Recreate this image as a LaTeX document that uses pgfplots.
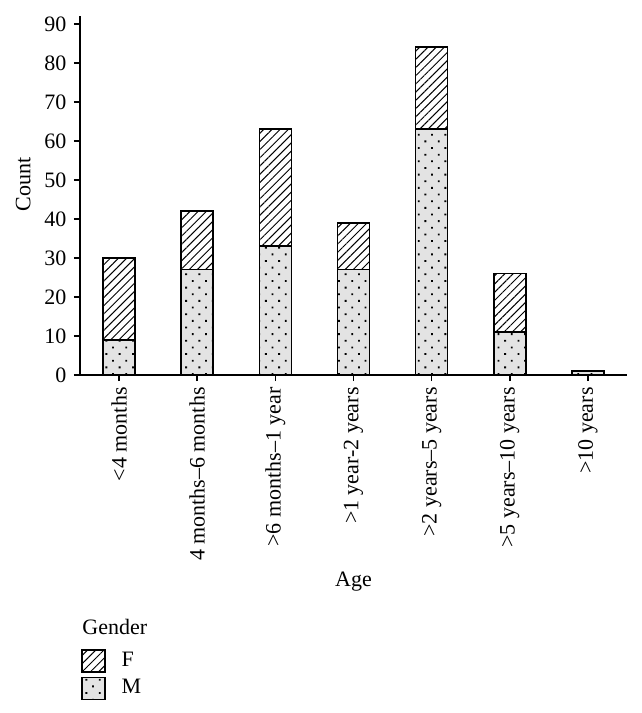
\documentclass[border=0pt]{standalone}
\usepackage{fontspec}
\setmainfont{Liberation Serif}
\usepackage{pgfplots}
\pgfplotsset{compat=1.18}
\usetikzlibrary{patterns.meta}
\begin{document}
\fontsize{11}{13.2}\selectfont
\begin{tikzpicture}
\useasboundingbox (-40pt,-169pt) rectangle (281pt,187.5pt);
\begin{axis}[
  scale only axis,
  width=273.5pt, height=179.5pt,
  ybar stacked, bar width=16pt,
  xmin=-0.5, xmax=6.5,
  ymin=0, ymax=92,
  axis lines=left,
  axis line style={line width=0.8pt, -},
  xtick={0,1,2,3,4,5,6},
  xticklabels={{<4 months},{4 months--6 months},{>6 months--1 year},{>1 year-2 years},{>2 years--5 years},{>5 years--10 years},{>10 years}},
  xticklabel style={rotate=90, anchor=east, inner sep=3pt},
  ytick={0,10,...,90},
  tick align=outside,
  major tick length=3pt,
  tick style={line width=0.8pt, black},
  /pgf/number format/assume math mode=true,
  xlabel={Age},
  xlabel style={at={(axis description cs:0.5,-0.588)}, anchor=base},
  ylabel={Count},
  ylabel style={at={(axis description cs:-0.104,0.53)}, anchor=center},
  legend style={at={(axis description cs:0.002,-0.763)}, anchor=north west, draw=none, fill=none,
    inner sep=0pt, row sep=2pt, column sep=0pt,
    nodes={inner sep=0pt, anchor=west}},
  legend cell align=left,
  reverse legend,
  legend image code/.code={\draw[#1, line width=0.6pt] (0pt,-5.5pt) rectangle (11.5pt,5.5pt);},
  legend style={/tikz/every odd column/.append style={column sep=8pt}},
]
\addplot[draw=black, line width=0.8pt, fill=gray!22,
  postaction={pattern={Dots[distance=4.7pt, angle=45, radius=0.65pt]}, pattern color=black}]
  coordinates {(0,9) (1,27) (2,33) (3,27) (4,63) (5,11) (6,1)};
\addlegendentry{M}
\addplot[draw=black, line width=0.8pt, fill=white,
  postaction={pattern={Lines[angle=45, distance=2.9pt, line width=0.5pt]}, pattern color=black}]
  coordinates {(0,21) (1,15) (2,30) (3,12) (4,21) (5,15) (6,0)};
\addlegendentry{F}
\end{axis}
\node[anchor=base west, inner sep=0pt] at (1pt,-129.5pt) {Gender};
\end{tikzpicture}
\end{document}
